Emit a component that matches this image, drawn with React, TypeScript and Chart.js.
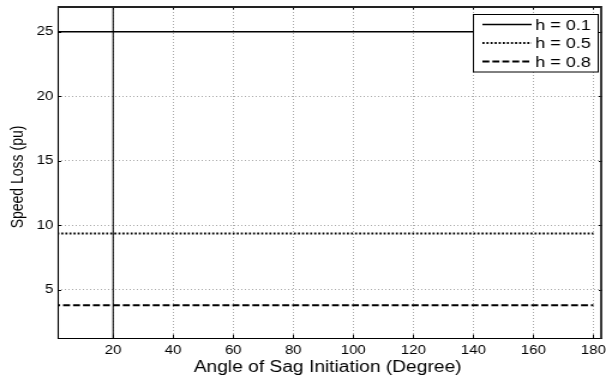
import { useEffect, useRef } from "react";
import { Chart, registerables } from "chart.js";

Chart.register(...registerables);

// Sag initiation angle (degrees) and the resulting speed loss for each sag depth
const angles = [0, 180];
const lossH01 = [25, 25];
const lossH05 = [9.35, 9.35];
const lossH08 = [3.78, 3.78];
const seriesLabels = ["h = 0.1", "h = 0.5", "h = 0.8"];

const xTicks = [20, 40, 60, 80, 100, 120, 140, 160, 180];
const yTicks = [5, 10, 15, 20, 25];
const xRange = [1.5, 183];
const yRange = [1.24, 27];
const cursorAngle = 20;

const xTitle = "Angle of Sag Initiation (Degree)";
const yTitle = "Speed Loss (pu)";

// The figure is rendered at its native width and widened on screen
const NATIVE_W = 505;
const SHOWN_W = 606;
const H = 383;

const FONT = "'Liberation Sans', Arial, Helvetica, sans-serif";

const toPoints = (xs: number[], ys: number[]) => xs.map((x, i) => ({ x, y: ys[i] }));

// Box frame plus MATLAB-style inward tick marks
const framePlugin = {
  id: "frame",
  afterDatasetsDraw(chart: any) {
    const { ctx, chartArea: a, scales } = chart;
    ctx.save();
    ctx.strokeStyle = "#000";
    ctx.lineWidth = 1;
    ctx.beginPath();
    for (const v of xTicks) {
      const px = Math.round(scales.x.getPixelForValue(v)) + 0.5;
      ctx.moveTo(px, a.bottom);
      ctx.lineTo(px, a.bottom - 3.5);
      ctx.moveTo(px, a.top);
      ctx.lineTo(px, a.top + 3.5);
    }
    for (const v of yTicks) {
      const py = Math.round(scales.y.getPixelForValue(v)) + 0.5;
      ctx.moveTo(a.left, py);
      ctx.lineTo(a.left + 3, py);
      ctx.moveTo(a.right, py);
      ctx.lineTo(a.right - 3, py);
    }
    ctx.stroke();

    // left & bottom thin, top & right heavier
    ctx.beginPath();
    ctx.lineWidth = 1.1;
    ctx.moveTo(a.left + 0.5, a.top);
    ctx.lineTo(a.left + 0.5, a.bottom + 0.5);
    ctx.lineTo(a.right, a.bottom + 0.5);
    ctx.stroke();
    ctx.beginPath();
    ctx.lineWidth = 1.8;
    ctx.strokeStyle = "#222";
    ctx.moveTo(a.left, a.top + 1);
    ctx.lineTo(a.right - 1, a.top + 1);
    ctx.lineTo(a.right - 1, a.bottom + 1);
    ctx.stroke();
    ctx.restore();
  },
};

// Axis titles
const titlesPlugin = {
  id: "axisTitles",
  afterDraw(chart: any) {
    const { ctx, chartArea: a } = chart;
    ctx.save();
    ctx.fillStyle = "#000";
    ctx.textAlign = "center";
    ctx.textBaseline = "middle";
    ctx.font = `16px ${FONT}`;
    ctx.fillText(xTitle, (a.left + a.right) / 2 - 2, a.bottom + 30);
    ctx.translate(15, (a.top + a.bottom) / 2 + 5);
    ctx.rotate(-Math.PI / 2);
    ctx.font = `14px ${FONT}`;
    ctx.fillText(yTitle, 0, 0);
    ctx.restore();
  },
};

// Boxed legend in the upper-right corner, drawn from the dataset styles
const legendPlugin = {
  id: "boxLegend",
  afterDraw(chart: any) {
    const { ctx, chartArea: a } = chart;
    const w = 104;
    const h = 57.5;
    const x0 = a.right - 4 - w;
    const y0 = a.top + 8;
    ctx.save();
    ctx.fillStyle = "#fff";
    ctx.fillRect(x0, y0, w, h);
    ctx.strokeStyle = "#000";
    ctx.lineWidth = 1;
    ctx.strokeRect(x0 + 0.5, y0 + 0.5, w, h);
    const entries = chart.data.datasets.filter((d: any) => seriesLabels.includes(d.label));
    entries.forEach((d: any, i: number) => {
      const cy = y0 + 10.5 + i * 18.5;
      ctx.beginPath();
      ctx.strokeStyle = d.borderColor;
      ctx.lineWidth = d.borderWidth;
      ctx.setLineDash(d.borderDash || []);
      ctx.moveTo(x0 + 8, cy);
      ctx.lineTo(x0 + 49, cy);
      ctx.stroke();
      ctx.setLineDash([]);
      ctx.fillStyle = "#000";
      ctx.font = `15px ${FONT}`;
      ctx.textBaseline = "middle";
      ctx.textAlign = "left";
      ctx.fillText(d.label, x0 + 52, cy + 1);
    });
    ctx.restore();
  },
};

export default function App() {
  const ref = useRef<HTMLCanvasElement>(null);

  useEffect(() => {
    document.body.style.margin = "0";
    const canvas = ref.current;
    if (!canvas) return;

    const chart = new Chart(canvas, {
      type: "line",
      data: {
        datasets: [
          {
            label: "cursor",
            data: [
              { x: cursorAngle, y: yRange[0] },
              { x: cursorAngle, y: yRange[1] },
            ],
            borderColor: "#000",
            borderWidth: 1.1,
            pointRadius: 0,
          },
          {
            label: seriesLabels[0],
            data: toPoints(angles, lossH01),
            borderColor: "#000",
            borderWidth: 1.6,
            pointRadius: 0,
          },
          {
            label: seriesLabels[1],
            data: toPoints(angles, lossH05),
            borderColor: "#000",
            borderWidth: 2,
            borderDash: [1.7, 1.7],
            pointRadius: 0,
          },
          {
            label: seriesLabels[2],
            data: toPoints(angles, lossH08),
            borderColor: "#000",
            borderWidth: 2,
            borderDash: [5.8, 2.5],
            pointRadius: 0,
          },
        ],
      },
      options: {
        responsive: false,
        animation: false,
        devicePixelRatio: 1,
        layout: { padding: { top: 6, right: 3, left: 0, bottom: 0 } },
        plugins: { legend: { display: false }, tooltip: { enabled: false } },
        scales: {
          x: {
            type: "linear",
            min: xRange[0],
            max: xRange[1],
            afterBuildTicks: (s: any) => {
              s.ticks = xTicks.map((value) => ({ value }));
            },
            afterFit: (s: any) => {
              s.height = 45;
              s.paddingLeft = 0;
              s.paddingRight = 0;
            },
            grid: { color: "#a8a8a8", lineWidth: 1, drawTicks: false },
            border: { display: false, dash: [1, 2] },
            ticks: {
              padding: 5,
              color: "#000",
              font: { family: FONT, size: 12.5 },
              maxRotation: 0,
            },
          },
          y: {
            type: "linear",
            min: yRange[0],
            max: yRange[1],
            afterBuildTicks: (s: any) => {
              s.ticks = yTicks.map((value) => ({ value }));
            },
            afterFit: (s: any) => {
              s.width = 48;
              s.paddingTop = 0;
              s.paddingBottom = 0;
            },
            grid: { color: "#a8a8a8", lineWidth: 1, drawTicks: false },
            border: { display: false, dash: [1, 2] },
            ticks: {
              padding: 3.5,
              color: "#000",
              font: { family: FONT, size: 12.5 },
            },
          },
        },
      },
      plugins: [framePlugin, legendPlugin, titlesPlugin],
    });

    return () => chart.destroy();
  }, []);

  return (
    <div style={{ width: SHOWN_W, height: H, background: "#fff" }}>
      <canvas
        ref={ref}
        width={NATIVE_W}
        height={H}
        style={{ width: SHOWN_W, height: H, display: "block" }}
      />
    </div>
  );
}
